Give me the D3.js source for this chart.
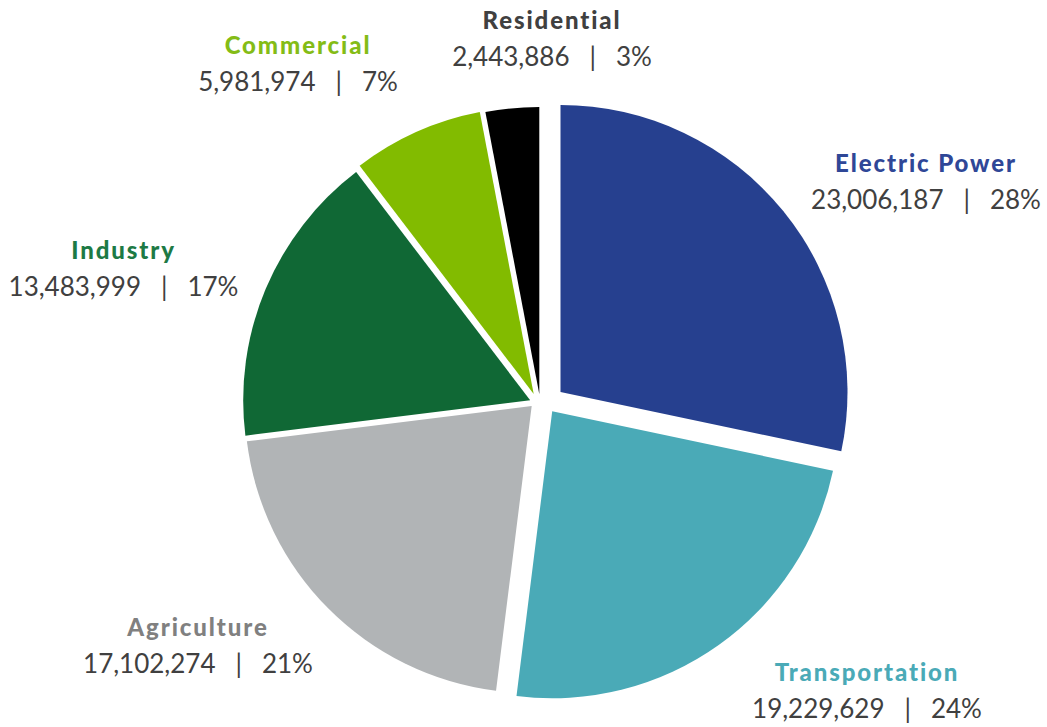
<!DOCTYPE html>
<html>
<head>
<meta charset="utf-8">
<script src="https://cdn.jsdelivr.net/npm/d3@7"></script>
<style>
  html, body { margin: 0; padding: 0; background: #fff; }
  svg { display: block; }
</style>
</head>
<body>
<script>
// data
const sectors = ["Electric Power", "Transportation", "Agriculture", "Industry", "Commercial", "Residential"];
const emissions = [23006187, 19229629, 17102274, 13483999, 5981974, 2443886];

// styles
const sliceColors = ["#26408f", "#4aaab7", "#b1b4b6", "#106835", "#82bb00", "#000000"];
const labelColors = ["#2f4797", "#4aaab7", "#808080", "#1d7a45", "#84bc16", "#404040"];

// layout: how far each slice was pulled out of the pie, and where its label sits
const explode = [[20.5, -8], [12.2, 11.3], [-8.3, 6], [-9.8, 0.3], [-6.3, -6], [-0.7, -6]];
const labelAt = [[926, 172], [867, 681], [198, 636], [123.5, 259], [298, 54], [552, 29]];

const width = 1047;
const height = 727;
const cx = 540, cy = 400, radius = 287;

const fmtNum = d3.format(",");
const total = d3.sum(emissions);

const svg = d3.select("body")
  .append("svg")
  .attr("width", width)
  .attr("height", height);

const pie = d3.pie().sort(null).startAngle(0).endAngle(2 * Math.PI);
const arc = d3.arc().innerRadius(0).outerRadius(radius);

const arcs = pie(emissions);

svg.append("g")
  .attr("transform", `translate(${cx},${cy})`)
  .selectAll("path")
  .data(arcs)
  .join("path")
  .attr("transform", (d, i) => `translate(${explode[i][0]},${explode[i][1]})`)
  .attr("fill", (d, i) => sliceColors[i])
  .attr("d", arc);

const font = "Lato, 'Open Sans', sans-serif";

const labels = svg.append("g")
  .attr("text-anchor", "middle")
  .style("font-family", font)
  .selectAll("g")
  .data(sectors)
  .join("g")
  .attr("transform", (d, i) => `translate(${labelAt[i][0]},${labelAt[i][1]})`);

labels.append("text")
  .attr("fill", (d, i) => labelColors[i])
  .style("font-size", "24px")
  .style("font-weight", 900)
  .style("letter-spacing", "1.9px")
  .text(d => d);

labels.append("text")
  .attr("y", 37)
  .attr("fill", "#404040")
  .style("font-size", "26px")
  .style("white-space", "pre")
  .text((d, i) => `${fmtNum(emissions[i])}   |   ${Math.round(emissions[i] / total * 100)}%`);
</script>
</body>
</html>
